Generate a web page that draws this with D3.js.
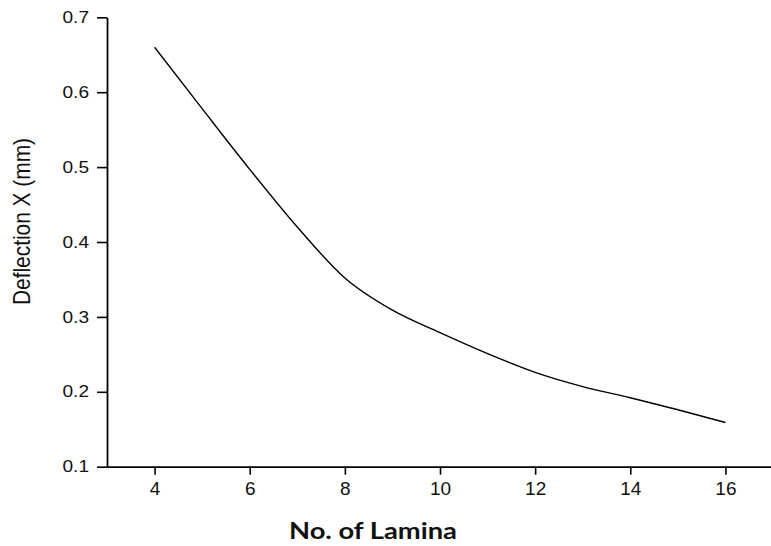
<!DOCTYPE html>
<html>
<head>
<meta charset="utf-8">
<script src="https://cdn.jsdelivr.net/npm/d3@7"></script>
<style>
  body { margin: 0; background: #fff; }
  svg { display: block; }
</style>
</head>
<body>
<div id="chart"></div>
<script>
// values
var lamina = [4, 5, 6, 7, 8, 9, 10, 11, 12, 13, 14, 15, 16];
var deflection = [0.660, 0.578, 0.497, 0.420, 0.352, 0.309, 0.279, 0.251, 0.226, 0.207, 0.192, 0.176, 0.159];
var xMajor = [4, 6, 8, 10, 12, 14, 16];
var xMinor = [3, 5, 7, 9, 11, 13, 15, 17];
var yMajor = [0.1, 0.2, 0.3, 0.4, 0.5, 0.6, 0.7];
var yMinor = [0.15, 0.25, 0.35, 0.45, 0.55, 0.65];

var width = 771;
var height = 546;

var x = d3.scaleLinear().domain([3, 17]).range([107, 773]);
var y = d3.scaleLinear().domain([0.1, 0.7]).range([466.7, 17.3]);

var svg = d3.select("#chart").append("svg")
    .attr("width", width)
    .attr("height", height);

// x axis
var gx = svg.append("g")
    .attr("transform", "translate(0," + y(0.1) + ")");
gx.call(d3.axisBottom(x).tickValues(xMinor).tickSize(5).tickSizeOuter(0).tickFormat(""));
gx.call(d3.axisBottom(x).tickValues(xMajor).tickSize(8).tickSizeOuter(0).tickPadding(7).tickFormat(d3.format("d")));

// y axis
var gy = svg.append("g")
    .attr("transform", "translate(" + x(3) + ",0)");
gy.call(d3.axisLeft(y).tickValues(yMinor).tickSize(5).tickSizeOuter(0).tickFormat(""));
gy.call(d3.axisLeft(y).tickValues(yMajor).tickSize(10).tickSizeOuter(0).tickPadding(8).tickFormat(d3.format(".1f")));

svg.selectAll(".domain")
    .attr("stroke", "#000")
    .attr("stroke-width", 1.8);
svg.selectAll(".tick line")
    .attr("stroke", "#000")
    .attr("stroke-width", 1.6);

gx.selectAll(".tick text")
    .attr("font-family", "'Liberation Sans', Arial, sans-serif")
    .attr("font-size", 19)
    .attr("fill", "#111");
gy.selectAll(".tick text")
    .attr("font-family", "'Liberation Sans', Arial, sans-serif")
    .attr("font-size", 16)
    .attr("textLength", 26.5)
    .attr("lengthAdjust", "spacingAndGlyphs")
    .attr("fill", "#111");

// curve
var line = d3.line()
    .x(function(d, i) { return x(lamina[i]); })
    .y(function(d) { return y(d); })
    .curve(d3.curveMonotoneX);

svg.append("path")
    .datum(deflection)
    .attr("fill", "none")
    .attr("stroke", "#000")
    .attr("stroke-width", 1.4)
    .attr("d", line);

// axis titles
svg.append("text")
    .text("Deflection X (mm)")
    .attr("font-family", "'Liberation Sans', Arial, sans-serif")
    .attr("font-size", 24)
    .attr("textLength", 167)
    .attr("lengthAdjust", "spacingAndGlyphs")
    .attr("text-anchor", "middle")
    .attr("fill", "#111")
    .attr("transform", "translate(30,221.5) rotate(-90)");

svg.append("text")
    .text("No. of Lamina")
    .attr("font-family", "Lato, 'Open Sans', sans-serif")
    .attr("font-weight", "bold")
    .attr("font-size", 22)
    .attr("textLength", 168)
    .attr("lengthAdjust", "spacingAndGlyphs")
    .attr("text-anchor", "middle")
    .attr("fill", "#111")
    .attr("transform", "translate(373,539)");
</script>
</body>
</html>
